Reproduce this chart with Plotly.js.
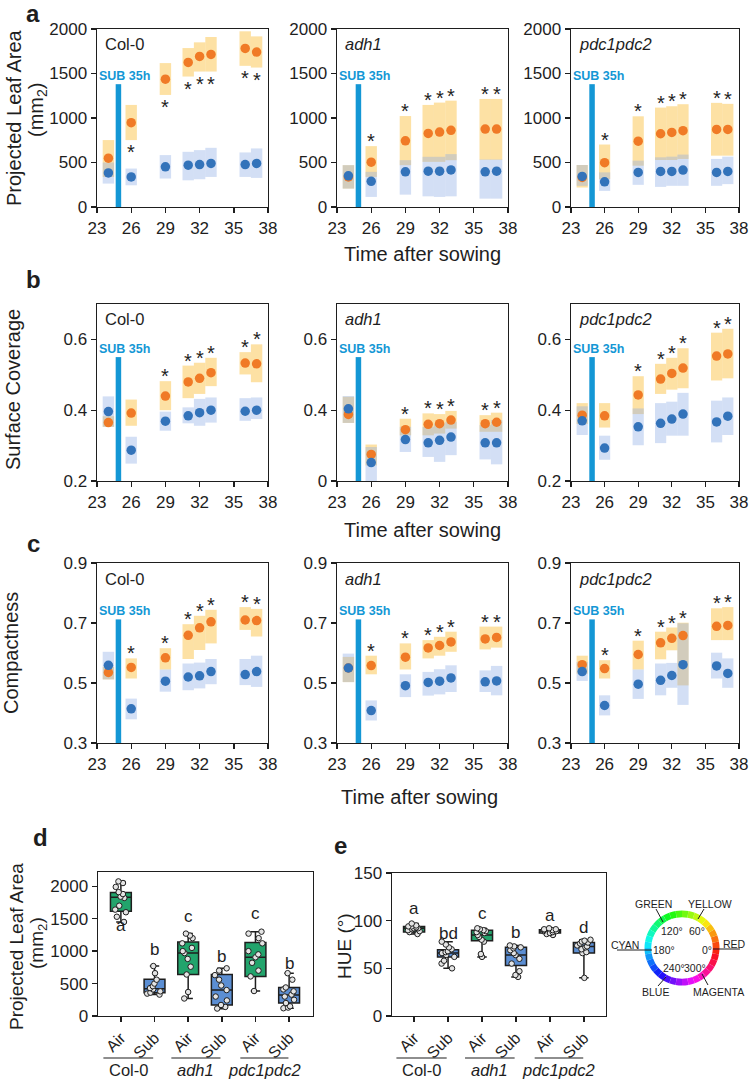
<!DOCTYPE html>
<html><head><meta charset="utf-8">
<script src="https://cdn.plot.ly/plotly-3.0.1.min.js"></script>
<style>html,body{margin:0;padding:0;background:#fff}#chart{width:749px;height:1082px}</style>
</head><body><div id="chart"></div>
<script>
const W = 749, H = 1082;

// ---------- shared ----------
const days = [24, 26, 29, 31, 32, 33, 36, 37];
const xTicks = [23, 26, 29, 32, 35, 38];
const subDay = 24.88;

// ---------- panel a : Projected Leaf Area ----------
const aColAirMean = [549, 947, 1436, 1624, 1692, 1714, 1782, 1741];
const aColAirLo   = [338, 752, 1259, 1466, 1522, 1522, 1586, 1567];
const aColAirHi   = [752, 1147, 1617, 1786, 1850, 1910, 1974, 1917];
const aColSubMean = [383, 338, 451, 470, 477, 489, 477, 489];
const aColSubLo   = [263, 244, 320, 300, 312, 338, 338, 327];
const aColSubHi   = [500, 432, 583, 620, 639, 665, 613, 658];

const aAdhAirMean = [338, 504, 744, 827, 842, 861, 876, 876];
const aAdhAirLo   = [207, 338, 470, 507, 507, 526, 530, 530];
const aAdhAirHi   = [470, 684, 1022, 1147, 1173, 1195, 1214, 1214];
const aAdhSubMean = [350, 289, 395, 402, 402, 417, 395, 402];
const aAdhSubLo   = [207, 113, 139, 120, 113, 120, 94, 94];
const aAdhSubHi   = [470, 395, 526, 564, 564, 594, 534, 534];

const aPdcAirMean = [332, 498, 740, 823, 838, 857, 872, 872];
const aPdcAirLo   = [219, 313, 464, 528, 528, 540, 577, 577];
const aPdcAirHi   = [472, 702, 1019, 1117, 1132, 1155, 1170, 1159];
const aPdcSubMean = [343, 283, 389, 400, 400, 415, 389, 400];
const aPdcSubLo   = [238, 181, 249, 226, 238, 238, 238, 257];
const aPdcSubHi   = [472, 389, 521, 558, 566, 589, 540, 566];

// ---------- panel b : Surface Coverage ----------
const bColAirMean = [0.365, 0.392, 0.440, 0.480, 0.490, 0.506, 0.533, 0.531];
const bColAirLo   = [0.353, 0.356, 0.400, 0.434, 0.446, 0.468, 0.501, 0.479];
const bColAirHi   = [0.383, 0.430, 0.482, 0.526, 0.534, 0.548, 0.564, 0.586];
const bColSubMean = [0.396, 0.287, 0.369, 0.384, 0.393, 0.400, 0.397, 0.400];
const bColSubLo   = [0.353, 0.249, 0.342, 0.363, 0.356, 0.365, 0.370, 0.375];
const bColSubHi   = [0.439, 0.325, 0.396, 0.408, 0.432, 0.436, 0.434, 0.436];

const bAdhAirMean = [0.388, 0.275, 0.345, 0.360, 0.362, 0.372, 0.362, 0.366];
const bAdhAirLo   = [0.364, 0.244, 0.329, 0.329, 0.334, 0.348, 0.339, 0.339];
const bAdhAirHi   = [0.438, 0.303, 0.376, 0.391, 0.389, 0.398, 0.386, 0.393];
const bAdhSubMean = [0.404, 0.252, 0.317, 0.308, 0.315, 0.324, 0.308, 0.308];
const bAdhSubLo   = [0.364, 0.195, 0.282, 0.268, 0.254, 0.273, 0.261, 0.247];
const bAdhSubHi   = [0.440, 0.296, 0.353, 0.353, 0.362, 0.367, 0.358, 0.372];

const bPdcAirMean = [0.386, 0.384, 0.443, 0.488, 0.504, 0.519, 0.553, 0.559];
const bPdcAirLo   = [0.361, 0.351, 0.389, 0.446, 0.458, 0.462, 0.484, 0.490];
const bPdcAirHi   = [0.420, 0.420, 0.496, 0.531, 0.548, 0.575, 0.619, 0.630];
const bPdcSubMean = [0.370, 0.293, 0.353, 0.363, 0.375, 0.389, 0.367, 0.383];
const bPdcSubLo   = [0.330, 0.260, 0.301, 0.307, 0.328, 0.328, 0.309, 0.330];
const bPdcSubHi   = [0.411, 0.328, 0.405, 0.420, 0.424, 0.449, 0.427, 0.436];

// ---------- panel c : Compactness ----------
const cColAirMean = [0.535, 0.552, 0.584, 0.659, 0.684, 0.704, 0.710, 0.708];
const cColAirLo   = [0.512, 0.515, 0.545, 0.580, 0.610, 0.632, 0.677, 0.655];
const cColAirHi   = [0.554, 0.582, 0.616, 0.696, 0.724, 0.744, 0.753, 0.747];
const cColSubMean = [0.559, 0.414, 0.506, 0.520, 0.524, 0.538, 0.528, 0.538];
const cColSubLo   = [0.512, 0.379, 0.471, 0.476, 0.482, 0.496, 0.493, 0.487];
const cColSubHi   = [0.604, 0.448, 0.545, 0.565, 0.568, 0.580, 0.580, 0.591];

const cAdhAirMean = [0.550, 0.558, 0.586, 0.617, 0.625, 0.637, 0.647, 0.652];
const cAdhAirLo   = [0.503, 0.529, 0.545, 0.582, 0.591, 0.604, 0.612, 0.618];
const cAdhAirHi   = [0.587, 0.591, 0.632, 0.643, 0.654, 0.671, 0.688, 0.688];
const cAdhSubMean = [0.550, 0.408, 0.491, 0.502, 0.506, 0.517, 0.504, 0.507];
const cAdhSubLo   = [0.503, 0.375, 0.453, 0.458, 0.462, 0.470, 0.470, 0.459];
const cAdhSubHi   = [0.598, 0.442, 0.529, 0.537, 0.546, 0.559, 0.542, 0.557];

const cPdcAirMean = [0.561, 0.548, 0.595, 0.634, 0.649, 0.658, 0.689, 0.692];
const cPdcAirLo   = [0.531, 0.515, 0.545, 0.579, 0.609, 0.492, 0.643, 0.643];
const cPdcAirHi   = [0.591, 0.576, 0.641, 0.671, 0.685, 0.701, 0.749, 0.753];
const cPdcSubMean = [0.538, 0.425, 0.496, 0.509, 0.525, 0.561, 0.557, 0.532];
const cPdcSubLo   = [0.507, 0.392, 0.447, 0.459, 0.484, 0.427, 0.515, 0.484];
const cPdcSubHi   = [0.570, 0.459, 0.545, 0.565, 0.567, 0.699, 0.601, 0.582];

// significance stars (days)
const starsA = [26, 29, 31, 32, 33, 36, 37];
const starsB = [29, 31, 32, 33, 36, 37];
const starsC = [26, 29, 31, 32, 33, 36, 37];

// submergence marker tops
const subTopA = 1380, subTopB = 0.55, subTopC = 0.712;

// ---------- panel d : Projected Leaf Area boxes ----------
const boxTickText = ['Air', 'Sub', 'Air', 'Sub', 'Air', 'Sub'];
const groupLabels = ['Col-0', '<i>adh1</i>', '<i>pdc1pdc2</i>'];

const dAirQ1 = [1615, 640, 610], dAirMed = [1830, 970, 905], dAirQ3 = [1905, 1140, 1135];
const dAirMin = [1450, 270, 385], dAirMax = [2075, 1270, 1300];
const dSubQ1 = [360, 170, 200], dSubMed = [420, 400, 325], dSubQ3 = [565, 640, 440];
const dSubMin = [330, 110, 120], dSubMax = [770, 735, 660];
const dPts = [
  [2075, 2050, 1990, 1910, 1880, 1840, 1820, 1700, 1640, 1600, 1530, 1450],
  [770, 660, 560, 500, 460, 430, 410, 380, 360, 345, 330],
  [1270, 1240, 1200, 1120, 1050, 1000, 970, 880, 760, 640, 370, 270],
  [735, 700, 630, 560, 470, 400, 300, 240, 170, 140, 115],
  [1300, 1270, 1200, 1120, 1000, 950, 905, 820, 700, 610, 385],
  [660, 560, 440, 410, 380, 330, 300, 250, 200, 150, 130, 120]
];
const dLetters = ['a', 'b', 'c', 'b', 'c', 'b'];
const dLetterY = [1390, 1030, 1538, 923, 1585, 815];

// ---------- panel e : HUE boxes ----------
const eAirQ1 = [88, 79, 87], eAirMed = [92, 85, 89], eAirQ3 = [94, 90, 90.5];
const eAirMin = [86, 62, 85], eAirMax = [97, 92, 92];
const eSubQ1 = [62, 53, 66], eSubMed = [66, 64, 73], eSubQ3 = [69.5, 72, 77];
const eSubMin = [50, 41, 40], eSubMax = [78, 74, 80];
const ePts = [
  [97, 95, 94, 94, 93, 92, 92, 91, 90, 89, 88, 86],
  [78, 75, 72, 70, 68, 67, 66, 64, 62, 58, 55, 50],
  [92, 91, 90, 89, 88, 87, 85, 83, 80, 78, 65, 62],
  [74, 73, 72, 71, 69, 66, 64, 60, 55, 47, 43, 41],
  [92, 91, 91, 90, 90, 89, 89, 88, 87, 86, 85],
  [80, 79, 78, 77, 76, 74, 73, 72, 70, 67, 66, 40]
];
const eLetters = ['a', 'bd', 'c', 'b', 'a', 'd'];
const eLetterY = [113, 87, 107, 88, 105, 93];

// colour wheel hue stops (degrees)
const wheelHues = [5,15,25,35,45,55,65,75,85,95,105,115,125,135,145,155,165,175,
                   185,195,205,215,225,235,245,255,265,275,285,295,305,315,325,335,345,355];

// ---------- styling ----------
const FONT = 'Arial, "Liberation Sans", "DejaVu Sans", sans-serif';
const INK = '#1e1e1e';
const ORANGE = '#F07A26', BLUE = '#3373BA';
const ORANGE_FILL = 'rgba(251,196,74,0.5)', BLUE_FILL = 'rgba(140,172,228,0.38)';
const SUBC = '#1497D5';
const GREEN = '#22A46C', BOXBLUE = '#5B8ED3';

const px = v => v / W;
const py = v => 1 - v / H;

const rowsCfg = [
  {top: 29, bottom: 207, range: [0, 2000], tickvals: [0, 500, 1000, 1500, 2000], subTop: subTopA, stars: starsA},
  {top: 304, bottom: 481, range: [0.2, 0.7], tickvals: [0.2, 0.4, 0.6], subTop: subTopB, stars: starsB},
  {top: 563, bottom: 743, range: [0.3, 0.9], tickvals: [0.3, 0.5, 0.7, 0.9], subTop: subTopC, stars: starsC}
];
const colsCfg = [[97, 268], [337, 508], [571, 739]];
const genoNames = ['Col-0', '<i>adh1</i>', '<i>pdc1pdc2</i>'];

const series = [
  [[aColAirMean, aColAirLo, aColAirHi, aColSubMean, aColSubLo, aColSubHi],
   [aAdhAirMean, aAdhAirLo, aAdhAirHi, aAdhSubMean, aAdhSubLo, aAdhSubHi],
   [aPdcAirMean, aPdcAirLo, aPdcAirHi, aPdcSubMean, aPdcSubLo, aPdcSubHi]],
  [[bColAirMean, bColAirLo, bColAirHi, bColSubMean, bColSubLo, bColSubHi],
   [bAdhAirMean, bAdhAirLo, bAdhAirHi, bAdhSubMean, bAdhSubLo, bAdhSubHi],
   [bPdcAirMean, bPdcAirLo, bPdcAirHi, bPdcSubMean, bPdcSubLo, bPdcSubHi]],
  [[cColAirMean, cColAirLo, cColAirHi, cColSubMean, cColSubLo, cColSubHi],
   [cAdhAirMean, cAdhAirLo, cAdhAirHi, cAdhSubMean, cAdhSubLo, cAdhSubHi],
   [cPdcAirMean, cPdcAirLo, cPdcAirHi, cPdcSubMean, cPdcSubLo, cPdcSubHi]]
];

const axCommon = {
  showline: true, mirror: true, linecolor: INK, linewidth: 1.4,
  ticks: 'outside', ticklen: 5, tickwidth: 1.4, tickcolor: INK,
  showgrid: false, zeroline: false, fixedrange: true, ticklabeloverflow: 'allow',
  tickfont: {family: FONT, size: 17, color: INK}
};

const traces = [];
const annotations = [];
const shapes = [];
const layout = {
  width: W, height: H, margin: {l: 0, r: 0, t: 0, b: 0},
  paper_bgcolor: '#fff', plot_bgcolor: 'rgba(0,0,0,0)',
  showlegend: false, hovermode: false,
  barmode: 'overlay', boxmode: 'overlay',
  font: {family: FONT, color: INK}
};

for (let r = 0; r < 3; r++) {
  for (let c = 0; c < 3; c++) {
    const k = r * 3 + c + 1;
    const sfx = k === 1 ? '' : String(k);
    const xa = 'x' + sfx, ya = 'y' + sfx;
    const R = rowsCfg[r];
    let ticktext = R.tickvals.map(v => String(v));
    if (r === 1 && c === 1) ticktext = ['0', '0.4', '0.6'];
    layout['xaxis' + sfx] = Object.assign({}, axCommon, {
      domain: [px(colsCfg[c][0]), px(colsCfg[c][1])], range: [22.9999, 38.0001],
      tickvals: xTicks, anchor: ya
    });
    layout['yaxis' + sfx] = Object.assign({}, axCommon, {
      domain: [py(R.bottom), py(R.top)], range: [R.range[0] - 1e-6, R.range[1] + 1e-6],
      tickvals: R.tickvals, ticktext: ticktext, anchor: xa
    });
    const [am, alo, ahi, sm, slo, shi] = series[r][c];
    traces.push({type: 'bar', xaxis: xa, yaxis: ya, x: days, base: alo,
      y: ahi.map((h, i) => h - alo[i]), width: 1.0,
      marker: {color: ORANGE_FILL, line: {width: 0}}, hoverinfo: 'skip'});
    traces.push({type: 'bar', xaxis: xa, yaxis: ya, x: days, base: slo,
      y: shi.map((h, i) => h - slo[i]), width: 1.0,
      marker: {color: BLUE_FILL, line: {width: 0}}, hoverinfo: 'skip'});
    traces.push({type: 'scatter', mode: 'lines', xaxis: xa, yaxis: ya,
      x: [subDay, subDay], y: [R.range[0], R.subTop],
      line: {color: SUBC, width: 5.5}, hoverinfo: 'skip', cliponaxis: true});
    traces.push({type: 'scatter', mode: 'markers', xaxis: xa, yaxis: ya, x: days, y: am,
      marker: {color: ORANGE, size: 9.5, line: {width: 0}}, hoverinfo: 'skip'});
    traces.push({type: 'scatter', mode: 'markers', xaxis: xa, yaxis: ya, x: days, y: sm,
      marker: {color: BLUE, size: 9.5, line: {width: 0}}, hoverinfo: 'skip'});

    // genotype label
    annotations.push({xref: xa + ' domain', yref: ya + ' domain', x: 0.035, y: 0.975,
      xanchor: 'left', yanchor: 'top', showarrow: false, text: genoNames[c],
      font: {family: FONT, size: 16.5, color: INK}});
    // SUB 35h label
    annotations.push({xref: xa, yref: ya, x: subDay, y: R.subTop, xanchor: 'center', yanchor: 'bottom',
      xshift: 6, yshift: -1, showarrow: false, text: '<b>SUB 35h</b>',
      font: {family: FONT, size: 12.5, color: SUBC}});
    // stars
    const below = (r === 0 && c === 0);
    R.stars.forEach(d => {
      const i = days.indexOf(d);
      annotations.push({xref: xa, yref: ya, x: d, y: below ? alo[i] : ahi[i],
        yanchor: below ? 'top' : 'bottom', xanchor: 'center', yshift: below ? 1 : -8,
        showarrow: false, text: '*', font: {family: FONT, size: 20, color: INK}});
    });
  }
}

// ---------- box panels ----------
function boxPanel(k, dom, yrng, ytv, air, sub, pts, letters, letterY, letterFont) {
  const xa = 'x' + k, ya = 'y' + k;
  layout['xaxis' + k] = Object.assign({}, axCommon, {
    domain: [px(dom.x0), px(dom.x1)], range: dom.xr, tickvals: [0, 1, 2, 3, 4, 5],
    ticktext: boxTickText, tickangle: -45, anchor: ya,
    tickfont: {family: FONT, size: 16, color: INK}
  });
  layout['yaxis' + k] = Object.assign({}, axCommon, {
    domain: [py(dom.y1), py(dom.y0)], range: yrng, tickvals: ytv, anchor: xa
  });
  traces.push({type: 'box', xaxis: xa, yaxis: ya, x: [0, 2, 4],
    q1: air[0], median: air[1], q3: air[2], lowerfence: air[3], upperfence: air[4],
    boxpoints: false, fillcolor: GREEN, line: {color: INK, width: 1.5},
    width: 0.62, whiskerwidth: 0.45, hoverinfo: 'skip'});
  traces.push({type: 'box', xaxis: xa, yaxis: ya, x: [1, 3, 5],
    q1: sub[0], median: sub[1], q3: sub[2], lowerfence: sub[3], upperfence: sub[4],
    boxpoints: false, fillcolor: BOXBLUE, line: {color: INK, width: 1.5},
    width: 0.62, whiskerwidth: 0.45, hoverinfo: 'skip'});
  const xs = [], ys = [];
  pts.forEach((arr, g) => arr.forEach(v => { xs.push(g); ys.push(v); }));
  traces.push({type: 'box', xaxis: xa, yaxis: ya, x: xs, y: ys,
    boxpoints: 'all', jitter: 0.75, pointpos: 0, width: 0.62,
    fillcolor: 'rgba(0,0,0,0)', line: {color: 'rgba(0,0,0,0)', width: 0},
    marker: {size: 5.5, color: '#e4e4e4', line: {color: INK, width: 1}}, hoverinfo: 'skip'});
  letters.forEach((t, g) => annotations.push({xref: xa, yref: ya, x: g, y: letterY[g],
    xanchor: 'center', yanchor: 'middle', showarrow: false, text: t,
    font: {family: FONT, size: letterFont, color: INK}}));
  // group lines + labels
  const spans = [[-0.52, 0.96], [1.5, 2.96], [3.55, 4.98]];
  spans.forEach((s, g) => {
    shapes.push({type: 'line', xref: xa, yref: 'paper', x0: s[0], x1: s[1], y0: py(1058), y1: py(1058),
      line: {color: INK, width: 1.2}});
    annotations.push({xref: xa, yref: 'paper', x: (s[0] + s[1]) / 2, y: py(1070),
      xanchor: 'center', yanchor: 'middle', showarrow: false, text: groupLabels[g],
      font: {family: FONT, size: 16.5, color: INK}});
  });
}

boxPanel(10, {x0: 98, x1: 313, y0: 872, y1: 1016, xr: [-0.68, 5.71]}, [0, 2220], [0, 500, 1000, 1500, 2000],
  [dAirQ1, dAirMed, dAirQ3, dAirMin, dAirMax], [dSubQ1, dSubMed, dSubQ3, dSubMin, dSubMax],
  dPts, dLetters, dLetterY, 17);
boxPanel(11, {x0: 392, x1: 606, y0: 873, y1: 1016, xr: [-0.65, 5.65]}, [0, 150], [0, 50, 100, 150],
  [eAirQ1, eAirMed, eAirQ3, eAirMin, eAirMax], [eSubQ1, eSubMed, eSubQ3, eSubMin, eSubMax],
  ePts, eLetters, eLetterY, 17);

// ---------- colour wheel ----------
const wc = {x: 682, y: 948, r: 37.5};
traces.push({type: 'pie', values: wheelHues.map(() => 1), labels: wheelHues.map(h => 'h' + h),
  marker: {colors: wheelHues.map(h => `hsl(${h},95%,52%)`), line: {width: 0}},
  hole: 0.82, sort: false, direction: 'counterclockwise', rotation: 90,
  textinfo: 'none', hoverinfo: 'skip', showlegend: false,
  domain: {x: [px(wc.x - wc.r), px(wc.x + wc.r)], y: [py(wc.y + wc.r), py(wc.y - wc.r)]}});

const wheelText = [
  ['GREEN', 653, 904], ['YELLOW', 710, 904], ['CYAN', 625, 945], ['RED', 734, 944],
  ['BLUE', 655, 992], ['MAGENTA', 718, 992],
  ['120°', 672, 931], ['60°', 697, 931], ['180°', 664, 950], ['0°', 707, 950],
  ['240°', 674, 968], ['300°', 695, 968]
];
wheelText.forEach(([t, x, y]) => annotations.push({xref: 'paper', yref: 'paper', x: px(x), y: py(y),
  xanchor: 'center', yanchor: 'middle', showarrow: false, text: t,
  font: {family: FONT, size: 10.5, color: INK}}));
const leaders = [
  [656, 909, 663, 922], [704, 909, 698, 919], [617, 950, 652, 950], [713, 949, 740, 949],
  [666, 977, 658, 986], [702, 974, 708, 985]
];
leaders.forEach(([x0, y0, x1, y1]) => shapes.push({type: 'line', xref: 'paper', yref: 'paper',
  x0: px(x0), y0: py(y0), x1: px(x1), y1: py(y1), line: {color: INK, width: 1}}));

// ---------- titles & panel letters ----------
function txt(text, x, y, size, opts) {
  annotations.push(Object.assign({xref: 'paper', yref: 'paper', x: px(x), y: py(y),
    xanchor: 'center', yanchor: 'middle', showarrow: false, text: text,
    font: {family: FONT, size: size, color: INK}}, opts || {}));
}
txt('Projected Leaf Area', 14, 118, 20, {textangle: -90});
txt('(mm<sub>2</sub>)', 38, 110, 20, {textangle: -90});
txt('Surface Coverage', 13, 390, 20, {textangle: -90});
txt('Compactness', 11, 653, 20, {textangle: -90});
txt('Projected Leaf Area', 16, 947, 19, {textangle: -90});
txt('(mm<sub>2</sub>)', 38, 943, 19, {textangle: -90});
txt('HUE (°)', 344, 946, 19, {textangle: -90});
txt('Time after sowing', 422, 254, 20);
txt('Time after sowing', 422, 530, 20);
txt('Time after sowing', 420, 797, 20);
txt('<b>a</b>', 33, 13, 24);
txt('<b>b</b>', 33, 280, 24);
txt('<b>c</b>', 33, 543, 24);
txt('<b>d</b>', 40, 837, 24);
txt('<b>e</b>', 340, 845, 24);

layout.annotations = annotations;
layout.shapes = shapes;

Plotly.newPlot('chart', traces, layout, {staticPlot: true, displayModeBar: false});
</script></body></html>
